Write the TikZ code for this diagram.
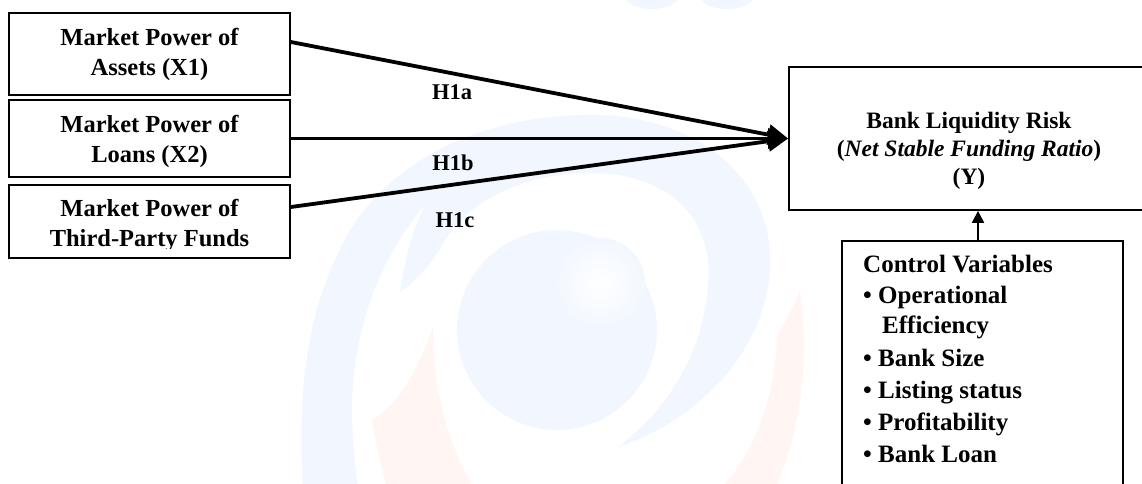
\documentclass[tikz,border=0pt]{standalone}
\usepackage{fontspec}
\setmainfont{Liberation Serif}
\usetikzlibrary{arrows.meta,calc}

\definecolor{wmblue}{RGB}{242,247,255}
\definecolor{wmorange}{RGB}{255,246,243}

\tikzset{
  box/.style={draw, line width=1.8pt, inner sep=0pt, align=center},
  boxtext/.style={font=\bfseries\fontsize{24.5}{30}\selectfont, align=center, inner sep=0pt},
  ytext/.style={font=\bfseries\fontsize{23.5}{28}\selectfont, align=center, inner sep=0pt},
  hlabel/.style={font=\bfseries\fontsize{22.5}{26}\selectfont, inner sep=0pt},
  cvline/.style={font=\bfseries\fontsize{25}{30}\selectfont, anchor=base west, inner sep=0pt},
  conn/.style={line width=3.8pt, -{Triangle[length=20pt,width=20pt]}},
  ctrlconn/.style={line width=2.2pt, -{Triangle[length=12pt,width=12pt]}},
}

\begin{document}
\begin{tikzpicture}[x=1pt,y=-1pt]
\useasboundingbox (0,0) rectangle (1142,483);

% faint swirl logo in the background
\fill[wmblue] (303,490)
  .. controls (296,380) and (310,300) .. (350,230)
  .. controls (400,150) and (500,112) .. (600,115)
  .. controls (700,118) and (775,180) .. (770,270)
  .. controls (765,350) and (700,420) .. (618,447)
  .. controls (680,400) and (712,330) .. (708,260)
  .. controls (700,200) and (650,173) .. (590,173)
  .. controls (520,173) and (460,205) .. (440,250)
  .. controls (430,265) and (415,282) .. (400,292)
  .. controls (404,265) and (410,235) .. (425,205)
  .. controls (395,240) and (360,300) .. (353,383)
  .. controls (350,430) and (355,460) .. (358,490) -- cycle;
\fill[wmblue] (557,330) circle [radius=100];
\shade[inner color=white, outer color=wmblue] (600,283) circle [radius=45];
\fill[wmorange] (433,327)
  .. controls (418,370) and (398,405) .. (372,420)
  .. controls (376,445) and (382,470) .. (387,490)
  -- (475,490)
  .. controls (445,440) and (432,380) .. cycle;
\fill[wmorange] (800,290)
  .. controls (792,310) and (783,325) .. (777,337)
  .. controls (775,380) and (765,440) .. (720,490)
  -- (775,490)
  .. controls (805,420) and (808,350) .. cycle;
\fill[wmblue] (652,-3) ellipse [x radius=26, y radius=12];
\fill[wmblue] (727,-3) ellipse [x radius=26, y radius=12];

% predictors
\node[box, minimum width=281, minimum height=82] (x1) at (149.5,54) {};
\node[boxtext] (x1t) at (149.5,54) {Market Power of\\Assets (X1)};
\node[box, minimum width=281, minimum height=77] (x2) at (149.5,138.5) {};
\node[boxtext] (x2t) at (149.5,141) {Market Power of\\Loans (X2)};
\node[box, minimum width=281, minimum height=73] (x3) at (149.5,221.5) {};
\begin{scope}
  \clip (0,180) rectangle (300,248);
  \node[boxtext] (x3t) at (149.5,226) {Market Power of\\Third-Party Funds};
\end{scope}

% outcome
\node[box, minimum width=354, minimum height=143] (y) at (966,138.5) {};
\node[ytext] (yt) at (969,151) {Bank Liquidity Risk\\(\textit{Net Stable Funding Ratio})\\(Y)};

% control variables
\node[box, minimum width=281, minimum height=260, anchor=north] (cv) at (982.5,240) {};
\node[cvline] (cv0) at (863,272) {Control Variables};
\node[cvline] (cv1) at (863,303) {\textbullet\ Operational};
\node[cvline] (cv2) at (882,333) {Efficiency};
\node[cvline] (cv3) at (863,366) {\textbullet\ Bank Size};
\node[cvline] (cv4) at (863,398) {\textbullet\ Listing status};
\node[cvline] (cv5) at (863,430) {\textbullet\ Profitability};
\node[cvline] (cv6) at (863,462) {\textbullet\ Bank Loan};

% hypothesised paths
\draw[conn] ($(x1.east)+(0,-12)$) -- (y.west);
\draw[conn] (x2.east) -- (y.west);
\draw[conn] ($(x3.east)+(0,-14.5)$) -- (y.west);
\node[hlabel] (h1a) at (452,92) {H1a};
\node[hlabel] (h1b) at (453,163) {H1b};
\node[hlabel] (h1c) at (455,220) {H1c};

\coordinate (cvtop) at ($(cv.north)+(-4.5,0)$);
\draw[ctrlconn] (cvtop) -- (cvtop |- y.south);
\end{tikzpicture}
\end{document}
